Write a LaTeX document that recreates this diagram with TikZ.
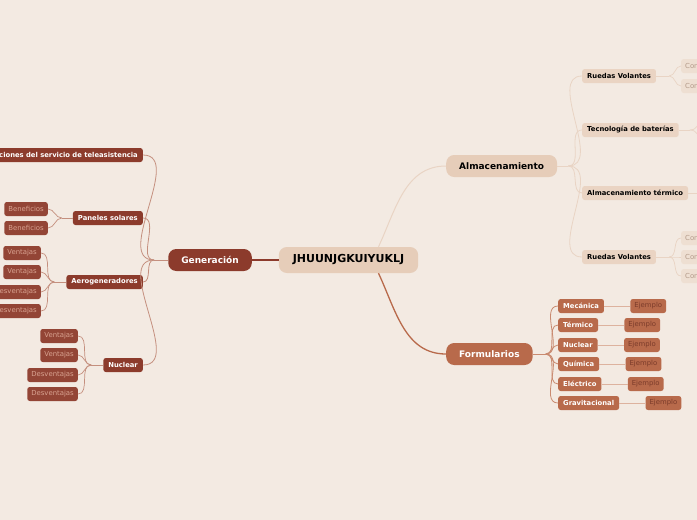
\documentclass[tikz,border=0pt]{standalone}
\usepackage{fontspec}
\setmainfont{DejaVu Sans}
\usetikzlibrary{positioning}

\definecolor{fondo}{HTML}{F3EAE2}
\definecolor{tanraiz}{HTML}{E6CDB9}
\definecolor{oscuro}{HTML}{8C3B2C}
\definecolor{oscurohoja}{HTML}{934536}
\definecolor{textohoja}{HTML}{D8A290}
\definecolor{lineaosc}{HTML}{C48F7E}
\definecolor{cobre}{HTML}{B86A4B}
\definecolor{lineacobre}{HTML}{C98A70}
\definecolor{lineaej}{HTML}{DDB29E}
\definecolor{textoej}{HTML}{7B3B2A}
\definecolor{claro}{HTML}{EAD4C3}
\definecolor{clarohoja}{HTML}{EEDFD2}
\definecolor{textoclaro}{HTML}{B39A89}
\definecolor{lineaclara}{HTML}{E9D4C4}

\tikzset{
  every node/.style={rounded corners=2.5pt, inner ysep=0pt, minimum height=14pt},
  raiz/.style={fill=tanraiz, rounded corners=8pt, minimum height=26pt, inner xsep=14pt,
    font=\fontsize{11}{13}\selectfont\bfseries},
  uno/.style={rounded corners=8pt, minimum height=22pt, inner xsep=13pt,
    font=\fontsize{9}{11}\selectfont\bfseries},
  dos/.style={inner xsep=5pt, font=\fontsize{6.8}{8}\selectfont\bfseries},
  tres/.style={inner xsep=4pt, font=\fontsize{6.9}{8}\selectfont},
  hojagen/.style={tres, fill=oscurohoja, text=textohoja},
  hojaalm/.style={tres, fill=clarohoja, text=textoclaro},
  hojaform/.style={tres, fill=cobre, text=textoej},
}

\begin{document}
\begin{tikzpicture}[x=1pt,y=-1pt]
\useasboundingbox (0,0) rectangle (697,520);
\fill[fondo] (0,0) rectangle (697,520);
\clip (0,0) rectangle (697,520);

% centro y ramas principales
\node[raiz] (cen) at (348.5,260) {JHUUNJGKUIYUKLJ};
\node[uno, fill=oscuro, text=white, anchor=east] (gen) at (252,260) {Generación};
\node[uno, fill=tanraiz, anchor=west] (alm) at (446,166) {Almacenamiento};
\node[uno, fill=cobre, text=white, anchor=west] (form) at (446,354) {Formularios};

\draw[oscuro, line width=1.3pt] (cen) -- (gen);
\draw[lineaclara, line width=1pt] ([xshift=30pt]cen.north) to[out=65,in=180] (alm.west);
\draw[cobre, line width=1.3pt] ([xshift=30pt]cen.south) to[out=-65,in=180] (form.west);

% Generacion
\node[dos, fill=oscuro, text=white, anchor=east] (lim) at (143,155) {Limitaciones del servicio de teleasistencia};
\node[dos, fill=oscuro, text=white, anchor=east] (pan) at (143,218) {Paneles solares};
\node[dos, fill=oscuro, text=white, anchor=east] (aero) at (143,282) {Aerogeneradores};
\node[dos, fill=oscuro, text=white, anchor=east] (nuc) at (143,365) {Nuclear};

\node[hojagen, anchor=east] (pan1) at (48,209) {Beneficios};
\node[hojagen, anchor=east] (pan2) at (48,228) {Beneficios};
\node[hojagen, anchor=east] (aero1) at (41,253) {Ventajas};
\node[hojagen, anchor=east] (aero2) at (41,272) {Ventajas};
\node[hojagen, anchor=east] (aero3) at (41,292) {Desventajas};
\node[hojagen, anchor=east] (aero4) at (41,311) {Desventajas};
\node[hojagen, anchor=east] (nuc1) at (78,336) {Ventajas};
\node[hojagen, anchor=east] (nuc2) at (78,355) {Ventajas};
\node[hojagen, anchor=east] (nuc3) at (78,375) {Desventajas};
\node[hojagen, anchor=east] (nuc4) at (78,394) {Desventajas};

\coordinate (genb) at ([xshift=-14pt]gen.west);
\coordinate (panb) at ([xshift=-11pt]pan.west);
\coordinate (aerob) at ([xshift=-12pt]aero.west);
\coordinate (nucb) at ([xshift=-12pt]nuc.west);
\draw[lineaosc, line width=0.8pt] (gen.west) -- (genb);
\draw[lineaosc, line width=0.8pt] (pan.west) -- (panb);
\draw[lineaosc, line width=0.8pt] (aero.west) -- (aerob);
\draw[lineaosc, line width=0.8pt] (nuc.west) -- (nucb);
\foreach \k in {lim,pan,aero,nuc}
  \draw[lineaosc, line width=0.8pt] (genb) to[out=180,in=0] (\k.east);
\foreach \k in {pan1,pan2}
  \draw[lineaosc, line width=0.7pt] (panb) to[out=180,in=0] (\k.east);
\foreach \k in {aero1,aero2,aero3,aero4}
  \draw[lineaosc, line width=0.7pt] (aerob) to[out=180,in=0] (\k.east);
\foreach \k in {nuc1,nuc2,nuc3,nuc4}
  \draw[lineaosc, line width=0.7pt] (nucb) to[out=180,in=0] (\k.east);

% Almacenamiento
\node[dos, fill=claro, anchor=west] (rv1) at (582,76) {Ruedas Volantes};
\node[dos, fill=claro, anchor=west] (bat) at (582,130) {Tecnología de baterías};
\node[dos, fill=claro, anchor=west] (term) at (582,193) {Almacenamiento térmico};
\node[dos, fill=claro, anchor=west] (rv2) at (582,257) {Ruedas Volantes};

\node[hojaalm, anchor=west] (rv1a) at (681,66) {Contras};
\node[hojaalm, anchor=west] (rv1b) at (681,86) {Contras};
\node[hojaalm, anchor=west] (rv2a) at (681,238) {Contras};
\node[hojaalm, anchor=west] (rv2b) at (681,257) {Contras};
\node[hojaalm, anchor=west] (rv2c) at (681,276) {Contras};

\coordinate (almb) at ([xshift=11pt]alm.east);
\coordinate (rv1b0) at ([xshift=13pt]rv1.east);
\coordinate (rv2b0) at ([xshift=13pt]rv2.east);
\coordinate (batb) at ([xshift=11pt]bat.east);
\coordinate (bat1) at (715,100);
\coordinate (bat2) at (715,160);
\coordinate (term1) at (715,193);
\draw[lineaclara, line width=0.8pt] (alm.east) -- (almb);
\foreach \k in {rv1,bat,term,rv2}
  \draw[lineaclara, line width=0.8pt] (almb) to[out=0,in=180] (\k.west);
\draw[lineaclara, line width=0.8pt] (rv1.east) -- (rv1b0);
\draw[lineaclara, line width=0.8pt] (rv2.east) -- (rv2b0);
\foreach \k in {rv1a,rv1b}
  \draw[lineaclara, line width=0.7pt] (rv1b0) to[out=0,in=180] (\k.west);
\foreach \k in {rv2a,rv2b,rv2c}
  \draw[lineaclara, line width=0.7pt] (rv2b0) to[out=0,in=180] (\k.west);
\draw[lineaclara, line width=0.8pt] (bat.east) -- (batb);
\draw[lineaclara, line width=0.7pt] (batb) to[out=0,in=180] (bat1);
\draw[lineaclara, line width=0.7pt] (batb) to[out=0,in=180] (bat2);
\draw[lineaclara, line width=0.8pt] (term.east) -- (term1);

% Formularios
\node[dos, fill=cobre, text=white, anchor=west] (mec) at (558,306) {Mecánica};
\node[dos, fill=cobre, text=white, anchor=west] (ter) at (558,325) {Térmico};
\node[dos, fill=cobre, text=white, anchor=west] (nucf) at (558,345) {Nuclear};
\node[dos, fill=cobre, text=white, anchor=west] (qui) at (558,364) {Química};
\node[dos, fill=cobre, text=white, anchor=west] (ele) at (558,384) {Eléctrico};
\node[dos, fill=cobre, text=white, anchor=west] (gra) at (558,403) {Gravitacional};

\coordinate (formb) at ([xshift=13pt]form.east);
\draw[lineacobre, line width=0.8pt] (form.east) -- (formb);
\foreach \k/\e in {mec/ej1,ter/ej2,nucf/ej3,qui/ej4,ele/ej5,gra/ej6}{
  \draw[lineacobre, line width=0.8pt] (formb) to[out=0,in=180] (\k.west);
  \node[hojaform, right=26pt of \k] (\e) {Ejemplo};
  \draw[lineaej, line width=1pt] (\k.east) -- (\e.west);
}
\end{tikzpicture}
\end{document}
